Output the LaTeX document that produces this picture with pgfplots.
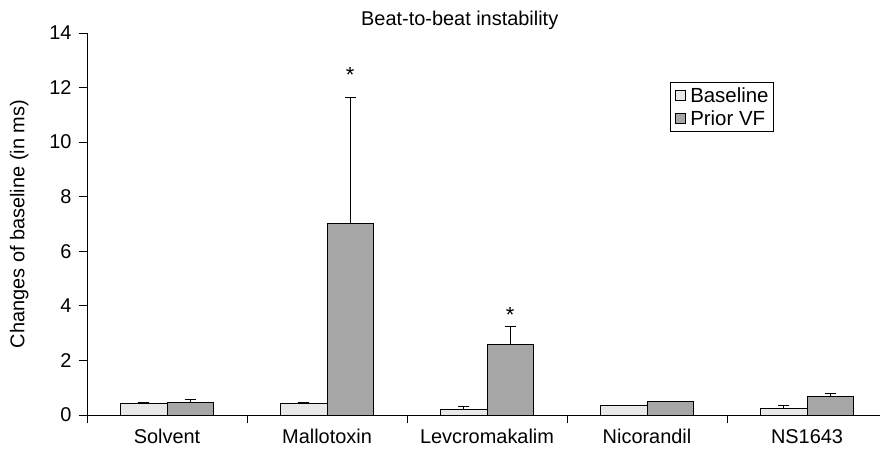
\documentclass[border=0pt]{standalone}
\usepackage{fontspec}
\setmainfont{Liberation Sans}
\usepackage{pgfplots}
\pgfplotsset{compat=1.18}
\definecolor{basefill}{HTML}{E8E8E8}
\definecolor{vffill}{HTML}{A6A6A6}
\begin{document}
\begin{tikzpicture}
\begin{axis}[
  at={(0,0)}, anchor=south west,
  scale only axis, width=793bp, height=382bp,
  xmin=-0.5, xmax=4.456, ymin=0, ymax=14,
  axis lines=left, axis line style={-, line width=0.9bp},
  ybar=0pt, bar width=0.29,
  xtick={0,1,2,3,4},
  xticklabels={Solvent,Mallotoxin,Levcromakalim,Nicorandil,NS1643},
  major x tick style={draw=none},
  minor xtick={-0.5,0.5,1.5,2.5,3.5},
  minor x tick style={black, line width=0.9bp},
  minor tick length=8bp,
  ytick={0,2,...,14},
  major tick length=8bp,
  tick align=outside,
  y tick style={black, line width=0.9bp},
  /pgf/number format/assume math mode=true,
  tick label style={font=\fontsize{20}{24}\selectfont},
  xticklabel style={yshift=-3bp},
  yticklabel style={xshift=-4bp},
  ylabel={Changes of baseline (in ms)},
  ylabel style={font=\fontsize{20}{24}\selectfont, yshift=14bp},
  title={Beat-to-beat instability},
  title style={font=\fontsize{20}{24}\selectfont, at={(0.47,1)}, anchor=south, yshift=-6bp},
  legend style={at={(0.735,0.872)}, anchor=north west, draw=black, line width=0.8bp,
    font=\fontsize{20.5}{24}\selectfont, inner xsep=3bp, inner ysep=3bp, row sep=3bp},
  legend cell align=left,
  legend image code/.code={\path[draw=none, fill=none] (0bp,-5bp) rectangle (15bp,5bp);
    \draw[#1, line width=0.7bp] (2bp,-5bp) rectangle (12bp,5bp);},
  error bars/y dir=plus, error bars/y explicit,
  error bars/error mark options={rotate=90, mark size=5.5bp, line width=0.9bp},
  error bars/error bar style={line width=0.9bp, black},
]
\addplot[draw=black, line width=0.9bp, fill=basefill] coordinates {
  (0,0.41) +- (0,0.04)
  (1,0.42) +- (0,0.03)
  (2,0.21) +- (0,0.09)
  (3,0.36) +- (0,0.0)
  (4,0.23) +- (0,0.12)
};
\addplot[draw=black, line width=0.9bp, fill=vffill] coordinates {
  (0,0.46) +- (0,0.11)
  (1,7.02) +- (0,4.6)
  (2,2.59) +- (0,0.65)
  (3,0.51) +- (0,0.0)
  (4,0.68) +- (0,0.11)
};
\legend{Baseline, Prior VF}
\node[font=\fontsize{22}{24}\selectfont] at (axis cs:1.145,12.45) {*};
\node[font=\fontsize{22}{24}\selectfont] at (axis cs:2.145,3.68) {*};
\end{axis}
\pgfresetboundingbox
\path (-87bp,-43bp) rectangle (793bp,415bp);
\end{tikzpicture}
\end{document}
